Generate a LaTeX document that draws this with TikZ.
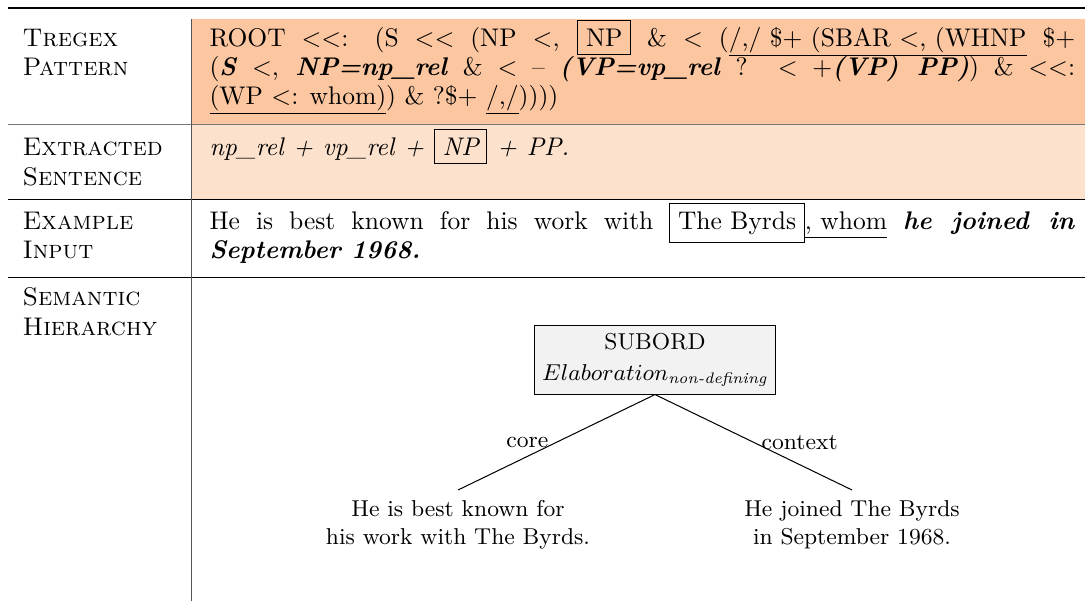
\documentclass[tikz,border=0pt]{standalone}
\usepackage{amsmath}
\definecolor{rowA}{RGB}{251,198,160}
\definecolor{rowB}{RGB}{252,225,205}
\definecolor{rulegray}{RGB}{120,120,120}
\newcommand{\bi}[1]{\textbf{\textit{#1}}}
\tikzset{
  lab/.style={anchor=base west, inner sep=0pt, font=\normalsize\scshape},
  txt/.style={anchor=base west, inner sep=0pt, font=\normalsize},
  rootbox/.style={draw, fill=gray!10, align=center, font=\small, inner xsep=3pt, inner ysep=3pt},
  leaf/.style={align=center, font=\small, inner xsep=0pt, inner ysep=4pt},
  edgelab/.style={font=\small, inner sep=3pt},
}
\begin{document}
\begin{tikzpicture}[x=0.3922pt, y=-0.3922pt]
\useasboundingbox (0,0) rectangle (1085,601);
% fills
\fill[rowA] (192,19) rectangle (1085,124);
\fill[rowB] (192,125) rectangle (1085,199);
% rules
\draw[line width=0.8pt] (8,8) -- (1085,8);
\draw[line width=0.4pt, rulegray] (8,124.5) -- (1085,124.5);
\draw[line width=0.4pt] (8,199.5) -- (1085,199.5);
\draw[line width=0.4pt] (8,277.5) -- (1085,277.5);
\draw[line width=0.45pt, rulegray!70!black] (191.5,19) -- (191.5,601);
% labels
\node[lab] (l1a) at (22,46) {Tregex};
\node[lab] (l1b) at (22,75) {Pattern};
\node[lab] (l2a) at (22,155) {Extracted};
\node[lab] (l2b) at (22,185) {Sentence};
\node[lab] (l3a) at (22,229) {Example};
\node[lab] (l3b) at (22,258) {Input};
\node[lab] (l4a) at (22,305) {Semantic};
\node[lab] (l4b) at (22,335) {Hierarchy};
% row 1
\node[txt] (p1) at (209,46) {\makebox[339.5pt][s]{ROOT $<<$: (S $<<$ (NP $<$, \fbox{NP} \& $<$ (\underline{/,/ \$+ (SBAR $<$, (WHNP} \$+}};
\node[txt] (p2) at (209,75) {\makebox[339.5pt][s]{(\bi{S} $<$, \bi{NP=np\_rel} \& $<$ -- \bi{(VP=vp\_rel} ? $<$ +\bi{(VP) PP)}) \& $<<$:}};
\node[txt] (p3) at (209,104) {\underline{(WP $<$: whom)}) \& ?\$+ \underline{/,/}))))};
% row 2
\node[txt] (e1) at (209,155) {\itshape\spaceskip=3.9pt plus 1pt minus 1pt np\_rel + vp\_rel + \fbox{NP} + PP.};
% row 3
\node[txt] (x1) at (209,229) {\makebox[339.5pt][s]{He is best known for his work with \fbox{The Byrds}\underline{, whom} \bi{he joined in}}};
\node[txt] (x2) at (209,258) {\bi{September 1968.}};
% tree
\node[rootbox] (root) at (655,360) {SUBORD\\[1pt]$Elaboration_{\textit{non-defining}}$};
\node[leaf, anchor=north] (left) at (458,490) {He is best known for\\his work with The Byrds.};
\node[leaf, anchor=north] (right) at (852,490) {He joined The Byrds\\in September 1968.};
\draw (root.south) -- node[edgelab, anchor=east] {core} (left.north);
\draw (root.south) -- node[edgelab, anchor=west] {context} (right.north);
\end{tikzpicture}
\end{document}
